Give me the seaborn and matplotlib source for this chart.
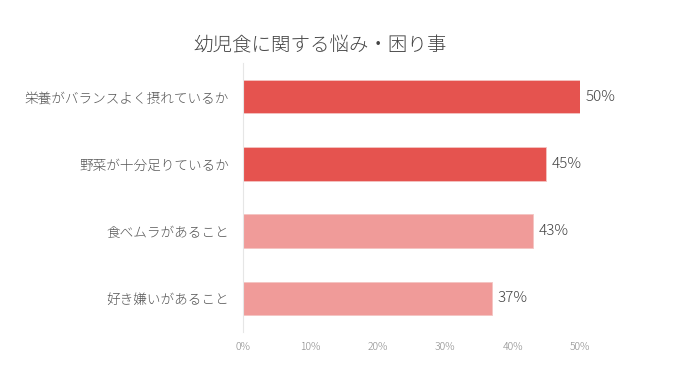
import matplotlib
matplotlib.use("Agg")
import matplotlib.pyplot as plt
import seaborn as sns
import pandas as pd

# ── data ────────────────────────────────────────────────────────────────────
categories = ["栄養がバランスよく摂れているか", "野菜が十分足りているか",
              "食べムラがあること", "好き嫌いがあること"]
values = [50, 45, 43, 37]
bar_colors = ["#E5534F", "#E5534F", "#F09B99", "#F09B99"]
ticks = [0, 10, 20, 30, 40, 50]

df = pd.DataFrame({"category": categories, "value": values})

sns.set_style("white")
plt.rcParams["font.family"] = ["Noto Sans CJK JP", "DejaVu Sans"]

fig = plt.figure(figsize=(6.8, 3.73), dpi=100)
ax = fig.add_axes([0.357, 0.110, 0.496, 0.721])

sns.barplot(data=df, x="value", y="category", hue="category",
            palette=bar_colors, saturation=1, legend=False, width=0.5, ax=ax,
            edgecolor="#F4C4C2", linewidth=0.6)

ax.set_xlim(0, 50)
ax.set_xticks(ticks)
ax.set_xticklabels([f"{t}%" for t in ticks], fontsize=7.5, color="#888888",
                   fontweight="light")
ax.tick_params(axis="y", labelsize=9.8, labelcolor="#555555", length=0, pad=10)
ax.tick_params(axis="x", length=0, pad=7)
for lab in ax.get_yticklabels():
    lab.set_fontweight("light")
ax.set_xlabel("")
ax.set_ylabel("")

for s in ["top", "right", "bottom"]:
    ax.spines[s].set_visible(False)
ax.spines["left"].set_color("#E6E6E6")
ax.spines["left"].set_linewidth(0.8)

for i, v in enumerate(values):
    ax.text(v + 0.8, i, f"{v}%", va="center", ha="left",
            fontsize=11, color="#444444", fontweight="light")

fig.text(0.47, 0.878, "幼児食に関する悩み・困り事", ha="center", va="center",
         fontsize=14, color="#444444", fontweight="light")

fig.savefig("out.png", dpi=100)
